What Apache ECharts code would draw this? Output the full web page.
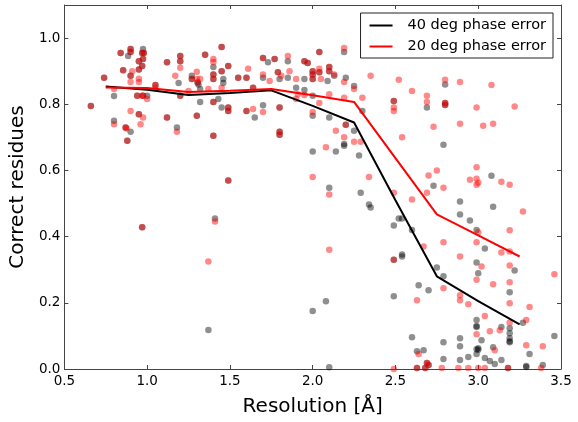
<!DOCTYPE html>
<html>
<head>
<meta charset="utf-8">
<script src="https://cdn.jsdelivr.net/npm/echarts@6/dist/echarts.min.js"></script>
<style>html,body{margin:0;padding:0;background:#fff}#c{width:578px;height:422px}</style>
</head>
<body>
<div id="c"></div>
<script>
const lineX = [0.75, 1.0, 1.25, 1.5, 1.75, 2.0, 2.25, 2.5, 2.75, 3.0, 3.25];
const line40 = [0.854, 0.844, 0.828, 0.834, 0.842, 0.795, 0.745, 0.51, 0.28, 0.205, 0.135];
const line20 = [0.851, 0.849, 0.837, 0.841, 0.846, 0.827, 0.807, 0.637, 0.467, 0.404, 0.34];

// points present in both runs (overlapping)
const bothPts = [[0.66,0.795],[0.74,0.88],[0.84,0.955],[0.855,0.903],[0.87,0.73],[0.90,0.967],[0.90,0.958],[0.90,0.886],[0.88,0.69],[0.94,0.826],[0.95,0.93],[0.95,0.905],[0.95,0.77],[0.97,0.955],[0.98,0.955],[0.975,0.937],[0.97,0.916],[0.975,0.826],[1.05,0.858],[1.12,0.927],[1.12,0.76],[1.20,0.946],[1.20,0.93],[1.20,0.826],[1.27,0.876],[1.305,0.866],[1.30,0.765],[1.35,0.95],[1.40,0.89],[1.40,0.876],[1.40,0.807],[1.40,0.705],[1.45,0.973],[1.45,0.90],[1.49,0.916],[1.49,0.79],[1.49,0.78],[1.55,0.88],[1.60,0.88],[1.60,0.78],[1.64,0.85],[1.49,0.57],[0.97,0.428],[2.49,0.33],[1.80,0.717],[1.80,0.708],[2.69,0.018],[2.70,0.012],[2.63,0.003],[2.68,0.003],[3.18,0.003],[1.70,0.94],[1.77,0.937],[1.79,0.897],[1.80,0.79],[1.95,0.93],[1.97,0.925],[2.0,0.90],[2.0,0.89],[2.0,0.876],[2.04,0.958],[2.04,0.897],[2.10,0.913],[2.10,0.90],[2.20,0.738],[2.49,0.81],[2.80,0.804],[2.80,0.798]];

// points from the 40 deg run only
const black40Pts = [[0.80,0.825],[0.80,0.75],[0.90,0.717],[0.885,0.946],[0.975,0.967],[1.0,0.826],[1.18,0.73],[1.19,0.864],[1.27,0.886],[1.31,0.86],[1.32,0.846],[1.32,0.807],[1.40,0.913],[1.46,0.876],[1.46,0.864],[1.45,0.79],[1.43,0.816],[1.65,0.76],[1.41,0.455],[1.37,0.118],[2.0,0.175],[2.08,0.205],[2.10,0.005],[2.49,0.22],[2.0,0.657],[2.14,0.657],[2.19,0.68],[2.19,0.675],[2.25,0.72],[2.28,0.645],[2.10,0.548],[2.29,0.533],[2.34,0.497],[2.35,0.488],[2.52,0.455],[2.49,0.434],[2.79,0.678],[2.73,0.554],[3.08,0.584],[2.89,0.506],[2.89,0.467],[3.09,0.49],[2.95,0.449],[2.99,0.42],[3.04,0.364],[2.54,0.455],[2.60,0.42],[2.54,0.346],[2.54,0.34],[2.75,0.307],[2.79,0.28],[2.99,0.322],[3.0,0.289],[3.22,0.298],[3.19,0.232],[3.27,0.14],[2.64,0.253],[2.70,0.238],[2.99,0.148],[2.99,0.127],[2.99,0.13],[3.02,0.087],[3.14,0.127],[3.19,0.123],[3.19,0.108],[3.19,0.093],[3.19,0.081],[3.19,0.084],[2.60,0.096],[2.63,0.054],[2.67,0.057],[2.79,0.081],[2.89,0.093],[2.89,0.069],[2.79,0.03],[2.89,0.027],[2.94,0.036],[2.99,0.045],[2.99,0.06],[3.0,0.063],[3.0,0.058],[3.04,0.033],[3.07,0.024],[3.10,0.015],[3.09,0.066],[3.14,0.027],[3.31,0.045],[3.46,0.10],[3.29,0.009],[3.29,0.006],[3.39,0.012],[1.70,0.797],[1.70,0.88],[1.73,0.927],[1.80,0.876],[1.85,0.93],[1.85,0.88],[1.90,0.85],[1.95,0.876],[1.95,0.843],[2.0,0.826],[2.0,0.765],[2.09,0.87],[2.10,0.76],[2.13,0.886],[2.19,0.958],[2.20,0.88],[2.25,0.855],[2.30,0.78],[2.69,0.79],[2.80,0.86]];

// points from the 20 deg run only
const red20Pts = [[0.80,0.846],[0.80,0.74],[0.91,0.90],[0.90,0.867],[0.90,0.78],[0.875,0.727],[0.95,0.877],[0.95,0.867],[0.96,0.74],[0.97,0.826],[0.975,0.76],[1.0,0.816],[1.05,0.85],[1.17,0.886],[1.18,0.717],[1.20,0.91],[1.25,0.84],[1.30,0.898],[1.30,0.876],[1.32,0.876],[1.37,0.846],[1.40,0.937],[1.40,0.928],[1.45,0.85],[1.61,0.907],[1.64,0.786],[1.41,0.446],[1.37,0.325],[2.10,0.36],[2.49,0.0],[2.0,0.58],[2.08,0.67],[2.14,0.72],[2.19,0.70],[2.25,0.687],[2.29,0.687],[2.10,0.527],[2.34,0.58],[2.49,0.533],[2.54,0.70],[2.70,0.585],[2.75,0.60],[2.79,0.548],[2.69,0.533],[2.60,0.512],[2.95,0.572],[2.99,0.61],[2.99,0.575],[3.0,0.563],[2.99,0.557],[3.14,0.566],[3.19,0.557],[3.27,0.476],[3.0,0.413],[3.19,0.419],[2.99,0.383],[2.79,0.383],[2.67,0.37],[3.14,0.352],[3.19,0.355],[2.89,0.34],[3.02,0.31],[2.99,0.27],[3.09,0.256],[3.19,0.313],[3.46,0.286],[3.19,0.262],[3.19,0.199],[3.31,0.187],[3.29,0.148],[2.79,0.244],[2.89,0.223],[2.89,0.208],[2.94,0.196],[2.63,0.208],[3.04,0.16],[2.99,0.105],[3.07,0.114],[3.13,0.117],[3.19,0.14],[2.64,0.045],[3.10,0.057],[3.29,0.072],[3.39,0.069],[2.78,0.003],[2.88,0.003],[2.94,0.003],[3.0,0.003],[3.04,0.003],[3.38,0.003],[1.70,0.777],[1.70,0.89],[1.74,0.87],[1.81,0.886],[1.85,0.946],[1.86,0.90],[1.90,0.876],[1.91,0.83],[1.90,0.816],[1.95,0.828],[2.0,0.777],[2.04,0.907],[2.05,0.876],[2.04,0.804],[2.10,0.83],[2.13,0.89],[2.19,0.97],[2.19,0.867],[2.19,0.82],[2.25,0.846],[2.30,0.82],[2.35,0.886],[2.52,0.874],[2.60,0.84],[2.49,0.79],[2.49,0.78],[2.69,0.826],[2.69,0.807],[2.80,0.874],[2.89,0.867],[2.99,0.79],[3.08,0.858],[3.22,0.793],[2.73,0.732],[2.89,0.741],[3.03,0.735],[3.09,0.741]];

const seriesNames = ['40 deg phase error', '20 deg phase error'];
const xTitle = 'Resolution [Å]';
const yTitle = 'Correct residues';

const FONT = 'DejaVu Sans';
const chart = echarts.init(document.getElementById('c'), null, {renderer: 'canvas'});
const fmt = v => v.toFixed(1);
const axisLineStyle = {color: '#444', width: 1};
const baseTick = {show: true, inside: true, length: 4, lineStyle: {color: '#444'}};

chart.setOption({
  animation: false,
  backgroundColor: '#fff',
  grid: {left: 63, right: 17, top: 5, bottom: 51, containLabel: false},
  legend: {
    data: seriesNames,
    orient: 'vertical',
    right: 25, top: 13,
    backgroundColor: '#fff',
    borderColor: '#222', borderWidth: 1, borderRadius: 0,
    padding: [5, 7, 4, 9],
    itemGap: 6,
    itemWidth: 23, itemHeight: 2,
    icon: 'rect',
    textStyle: {fontFamily: FONT, fontSize: 14.5, color: '#000', padding: [0, 0, 0, 10]}
  },
  xAxis: [{
    type: 'value', min: 0.5, max: 3.5, interval: 0.5,
    name: xTitle, nameLocation: 'middle', nameGap: 28,
    nameTextStyle: {fontFamily: FONT, fontSize: 20, color: '#000'},
    axisLine: {show: true, onZero: false, lineStyle: axisLineStyle},
    axisTick: baseTick,
    axisLabel: {fontFamily: FONT, fontSize: 13.5, color: '#000', margin: 5, formatter: fmt},
    splitLine: {show: false}
  }, {
    type: 'value', min: 0.5, max: 3.5, interval: 0.5, position: 'top',
    axisLine: {show: true, onZero: false, lineStyle: axisLineStyle},
    axisTick: baseTick, axisLabel: {show: false}, splitLine: {show: false}
  }],
  yAxis: [{
    type: 'value', min: 0, max: 1.1, interval: 0.2,
    name: yTitle, nameLocation: 'middle', nameGap: 29,
    nameTextStyle: {fontFamily: FONT, fontSize: 20, color: '#000'},
    axisLine: {show: true, onZero: false, lineStyle: axisLineStyle},
    axisTick: baseTick,
    axisLabel: {fontFamily: FONT, fontSize: 13.5, color: '#000', margin: 4, formatter: fmt, showMaxLabel: false},
    splitLine: {show: false}
  }, {
    type: 'value', min: 0, max: 1.1, interval: 0.2, position: 'right',
    axisLine: {show: true, onZero: false, lineStyle: axisLineStyle},
    axisTick: baseTick, axisLabel: {show: false}, splitLine: {show: false}
  }],
  series: [
    {type: 'scatter', name: 'pts40', data: black40Pts.concat(bothPts), symbolSize: 6.5,
     itemStyle: {color: 'rgba(0,0,0,0.55)'}, z: 2},
    {type: 'scatter', name: 'pts20', data: red20Pts.concat(bothPts), symbolSize: 6.5,
     itemStyle: {color: 'rgba(255,0,0,0.58)'}, z: 3},
    {type: 'line', name: seriesNames[0], data: lineX.map((x, i) => [x, line40[i]]),
     showSymbol: false, lineStyle: {color: '#000', width: 2}, itemStyle: {color: '#000'}, z: 4},
    {type: 'line', name: seriesNames[1], data: lineX.map((x, i) => [x, line20[i]]),
     showSymbol: false, lineStyle: {color: '#ff0000', width: 2}, itemStyle: {color: '#ff0000'}, z: 5}
  ]
});
</script>
</body>
</html>
